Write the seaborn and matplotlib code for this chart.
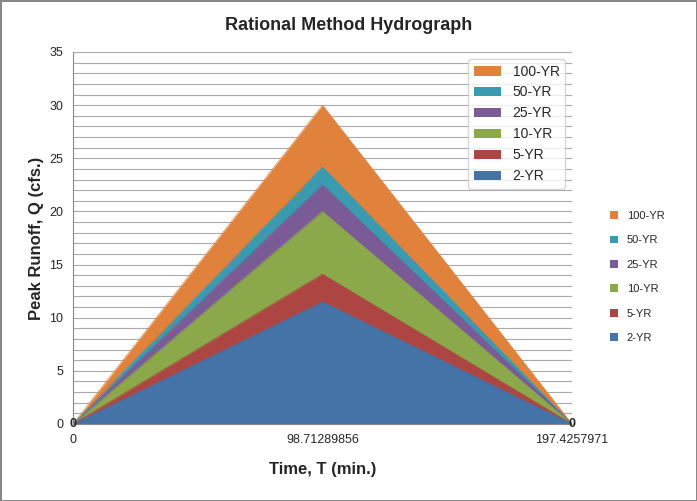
import matplotlib
matplotlib.use('Agg')
import matplotlib.pyplot as plt
import seaborn as sns
import numpy as np

# Time categories and peak runoff per return period
time_labels = ['0', '98.71289856', '197.4257971']
periods = ['100-YR', '50-YR', '25-YR', '10-YR', '5-YR', '2-YR']
q_100 = [0, 30.0, 0]
q_50 = [0, 24.2, 0]
q_25 = [0, 22.5, 0]
q_10 = [0, 20.0, 0]
q_5 = [0, 14.1, 0]
q_2 = [0, 11.5, 0]
colors = ['#E0823C', '#3A9AB0', '#7A5B95', '#8BA84B', '#AD4642', '#4473A8']

sns.set_style('white')
plt.rcParams['font.family'] = ['Liberation Sans', 'DejaVu Sans']

fig = plt.figure(figsize=(6.97, 5.01), dpi=100)
ax = fig.add_axes([73/697, 1-424/501, (572-73)/697, (424-52)/501])

x = np.arange(len(time_labels))
series = [q_100, q_50, q_25, q_10, q_5, q_2]
for name, vals, c in zip(periods, series, colors):
    ax.fill_between(x, 0, vals, color=c, label=name, linewidth=0, zorder=2)
    sns.lineplot(x=x, y=vals, ax=ax, color=c, linewidth=0.5, zorder=2)

# data labels at the ends
ax.text(x[0], 0, '0', ha='center', va='center', fontsize=9, fontweight='bold', zorder=5)
ax.text(x[-1], 0, '0', ha='center', va='center', fontsize=9, fontweight='bold', zorder=5)

ax.set_xlim(0, 2)
ax.set_ylim(0, 35)
ax.set_xticks(x)
ax.set_xticklabels(time_labels, fontsize=9)
ax.set_yticks(range(0, 36, 5))
ax.set_yticks(range(0, 36, 1), minor=True)
ax.tick_params(axis='y', labelsize=9)
ax.grid(axis='y', which='both', color='#AAAAAA', linewidth=0.8, zorder=0)
ax.set_axisbelow(True)
for s in ['top', 'right']:
    ax.spines[s].set_visible(False)
for s in ['left', 'bottom']:
    ax.spines[s].set_color('#888888')

ax.set_xlabel('Time, T (min.)', fontsize=12, fontweight='bold', labelpad=12)
ax.set_ylabel('Peak Runoff, Q (cfs.)', fontsize=12, fontweight='bold')
fig.text(0.5, 1-25/501, 'Rational Method Hydrograph', ha='center', va='center',
         fontsize=13, fontweight='bold')

handles, labels = ax.get_legend_handles_labels()
fig.legend(handles, labels, loc='center left', bbox_to_anchor=(600/697, 1-277/501),
           frameon=False, fontsize=8, handlelength=0.7, handleheight=0.7,
           labelspacing=1.3)

fig.patch.set_edgecolor('#888888')
fig.patch.set_linewidth(1)
fig.savefig('out.png', dpi=100, edgecolor=fig.get_edgecolor())
